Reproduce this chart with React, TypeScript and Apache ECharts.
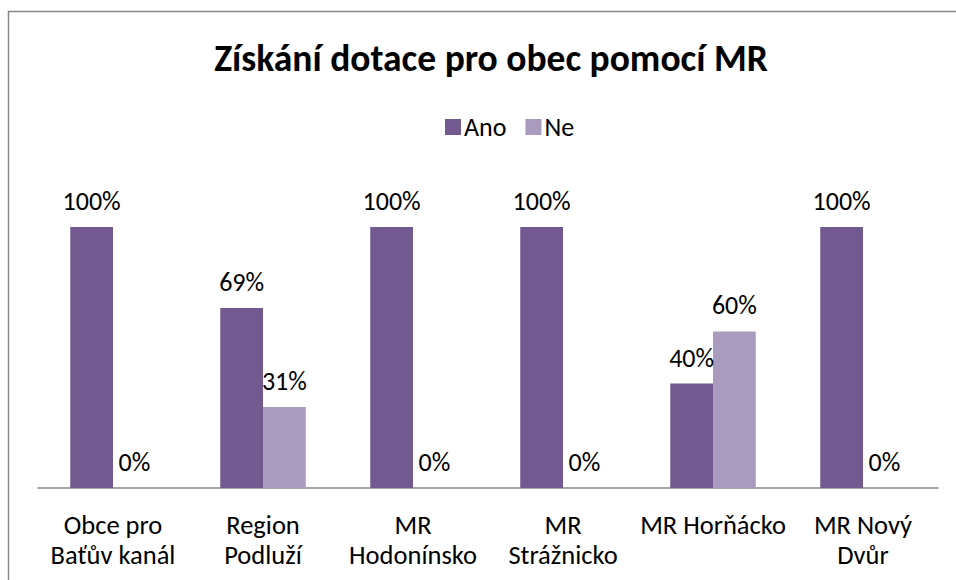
import React, { useEffect, useRef } from "react";
import * as echarts from "echarts";

const title = "Získání dotace pro obec pomocí MR";
const categories = [
  "Obce pro\nBaťův kanál",
  "Region\nPodluží",
  "MR\nHodonínsko",
  "MR\nStrážnicko",
  "MR Horňácko",
  "MR Nový\nDvůr",
];
const seriesNames = ["Ano", "Ne"];
const anoValues = [100, 69, 100, 100, 40, 100];
const neValues = [0, 31, 0, 0, 60, 0];

const FONT = "Carlito, Calibri, Lato, sans-serif";

export default function App() {
  const ref = useRef<HTMLDivElement>(null);
  useEffect(() => {
    if (!ref.current) return;
    const chart = echarts.init(ref.current, null, { renderer: "svg" });
    const label = {
      show: true,
      position: "top" as const,
      distance: 11,
      formatter: "{c}%",
      color: "#000",
      fontFamily: FONT,
      fontSize: 26,
      lineHeight: 30,
    };
    chart.setOption({
      animation: false,
      backgroundColor: "#fff",
      textStyle: { fontFamily: FONT },
      title: {
        text: title,
        left: 486,
        textAlign: "center",
        top: 34,
        textStyle: { fontFamily: FONT, fontSize: 37.5, fontWeight: "bold", color: "#000" },
      },
      legend: {
        data: seriesNames,
        top: 109,
        left: 440,
        itemWidth: 16,
        itemHeight: 16,
        itemGap: 19,
        icon: "rect",
        textStyle: { fontFamily: FONT, fontSize: 26, color: "#000", padding: [0, 0, 0, -2] },
      },
      graphic: [
        {
          type: "rect",
          shape: { x: 8.5, y: 11.5, width: 980, height: 620 },
          style: { fill: "none", stroke: "#868686", lineWidth: 1.5 },
          silent: true,
        },
      ],
      grid: { left: 38, right: 18, top: 227, bottom: 92 },
      xAxis: {
        type: "category",
        data: categories,
        axisLine: { lineStyle: { color: "#868686", width: 1.5 } },
        axisTick: { show: false },
        axisLabel: {
          interval: 0,
          margin: 22,
          color: "#000",
          fontFamily: FONT,
          fontSize: 26.5,
          lineHeight: 30,
        },
      },
      yAxis: {
        type: "value",
        min: 0,
        max: 100,
        show: false,
        splitLine: { show: false },
      },
      series: [
        {
          name: seriesNames[0],
          type: "bar",
          data: anoValues,
          barGap: "0%",
          barCategoryGap: "43%",
          itemStyle: { color: "#72598f" },
          label,
        },
        {
          name: seriesNames[1],
          type: "bar",
          data: neValues,
          itemStyle: { color: "#a99bbd" },
          label,
        },
      ],
    });
    return () => chart.dispose();
  }, []);
  return (
    <div
      ref={ref}
      style={{ position: "fixed", left: 0, top: 0, width: 956, height: 580 }}
    />
  );
}
